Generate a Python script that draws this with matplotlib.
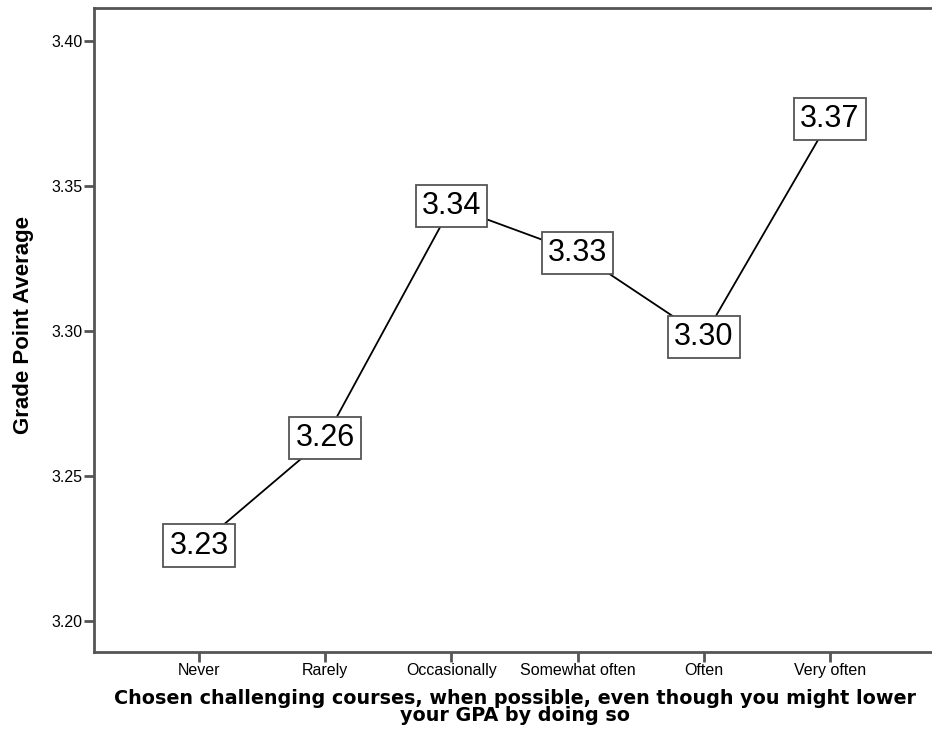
import matplotlib

matplotlib.use("Agg")
import matplotlib.pyplot as plt
import numpy as np

# Mean GPA by how often challenging courses were chosen
categories = ["Never", "Rarely", "Occasionally", "Somewhat often", "Often", "Very often"]
gpa_means = [3.226, 3.263, 3.343, 3.327, 3.298, 3.373]
y_ticks = [3.20, 3.25, 3.30, 3.35, 3.40]

W, H = 932, 743
fig = plt.figure(figsize=(W / 100, H / 100), dpi=100)

# axes frame in pixels: left 94, right 935 (just past the edge), top 8, bottom 652
left, right, top, bottom = 94, 935, 8, 652
ax = fig.add_axes([left / W, 1 - bottom / H, (right - left) / W, (bottom - top) / H])

x = np.arange(len(categories))
ax.plot(x, gpa_means, color="black", linewidth=1.3, zorder=2)

for xi, yi in zip(x, gpa_means):
    ax.text(xi, yi, f"{yi:.2f}", ha="center", va="center", fontsize=22,
            family="Liberation Sans", zorder=3,
            bbox=dict(boxstyle="square,pad=0.2", facecolor="white",
                      edgecolor="#555555", linewidth=1.3))

ax.set_xlim(-0.832, 5.832)
ax.set_ylim(3.1893, 3.4114)
ax.set_xticks(x)
ax.set_xticklabels(categories)
ax.set_yticks(y_ticks)
ax.set_yticklabels([f"{v:.2f}" for v in y_ticks])

for side in ["left", "bottom", "top"]:
    ax.spines[side].set_color("#555555")
    ax.spines[side].set_linewidth(2)
ax.spines["right"].set_visible(False)

ax.tick_params(axis="both", length=7, width=2, color="#555555", pad=1,
               labelsize=11.5)
for lab in ax.get_xticklabels() + ax.get_yticklabels():
    lab.set_family("Liberation Sans")

fig.text(24 / W, 1 - 325 / H, "Grade Point Average", rotation=90,
         ha="center", va="center", fontsize=16, fontweight="bold",
         family="Liberation Sans")
fig.text((left + right) / 2 / W, 1 - 689 / H,
         "Chosen challenging courses, when possible, even though you might lower\n"
         "your GPA by doing so",
         ha="center", va="top", fontsize=13.8, fontweight="bold",
         family="DejaVu Sans", linespacing=0.85)

fig.savefig("out.png", dpi=100)
